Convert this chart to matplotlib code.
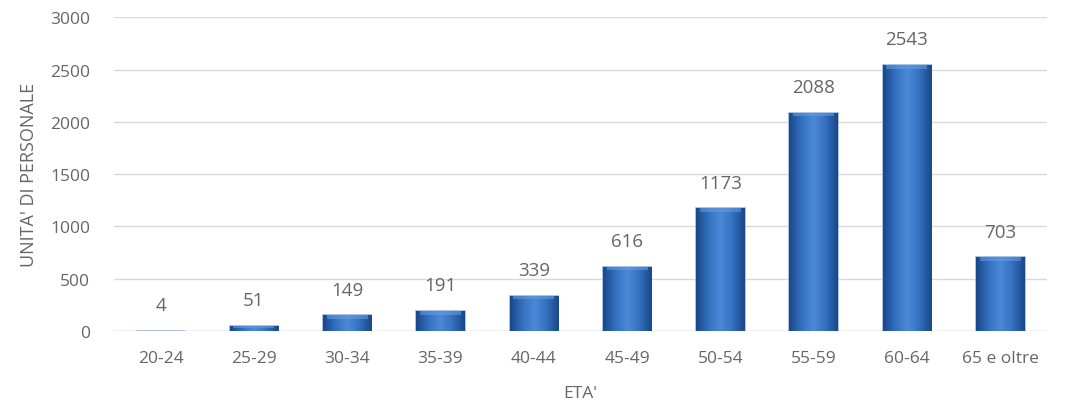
import matplotlib
matplotlib.use("Agg")
import matplotlib.pyplot as plt
import numpy as np
from matplotlib.colors import LinearSegmentedColormap

# dati
classi = ["20-24", "25-29", "30-34", "35-39", "40-44", "45-49", "50-54", "55-59", "60-64", "65 e oltre"]
unita = [4, 51, 149, 191, 339, 616, 1173, 2088, 2543, 703]
yticks = [0, 500, 1000, 1500, 2000, 2500, 3000]

plt.rcParams['font.family'] = ['Open Sans', 'DejaVu Sans']
grigio = '#666666'

fig = plt.figure(figsize=(10.65, 4.14), dpi=100)
ax = fig.add_axes([0.107, 0.198, 0.876, 0.758])

cmap = LinearSegmentedColormap.from_list(
    "barra", ["#1a4888", "#3370c0", "#4c89d6", "#3370c0", "#1a4888"])
grad = np.linspace(0, 1, 64).reshape(1, -1)

w = 0.52
x = np.arange(len(classi))
bars = ax.bar(x, unita, width=w, color='none', edgecolor='#9bb7e0', lw=1.2, zorder=3)
for b, v in zip(bars, unita):
    x0 = b.get_x()
    im = ax.imshow(grad, cmap=cmap, aspect='auto', extent=[x0, x0 + w, 0, v],
                   zorder=3, interpolation='bicubic')
    im.set_clip_path(b)
    # bordo superiore smussato
    top = min(35, v * 0.5)
    ax.fill_between([x0 + 0.04, x0 + w - 0.04], v - top, v, color='#6a9fe0',
                    alpha=0.55, zorder=4, lw=0)
    ax.text(b.get_x() + w / 2, v + 160, str(v), ha='center', va='bottom',
            fontsize=13.5, color=grigio)

ax.set_xlim(-0.5, len(classi) - 0.5)
ax.set_ylim(0, 3000)
ax.set_yticks(yticks)
ax.set_xticks(x)
ax.set_xticklabels(classi)
ax.grid(axis='y', color='#d9d9d9', lw=1, zorder=0)
ax.set_axisbelow(True)
for s in ax.spines.values():
    s.set_visible(False)
ax.axhline(0, color='#d9d9d9', lw=1, zorder=2)
ax.tick_params(length=0, labelsize=12.5, colors=grigio)
ax.tick_params(axis='y', pad=17)
ax.tick_params(axis='x', pad=14)
ax.set_ylabel("UNITA' DI PERSONALE", fontsize=13, color=grigio, labelpad=9)
ax.set_xlabel("ETA'", fontsize=12.5, color=grigio, labelpad=13)

fig.savefig("out.png", dpi=100)
